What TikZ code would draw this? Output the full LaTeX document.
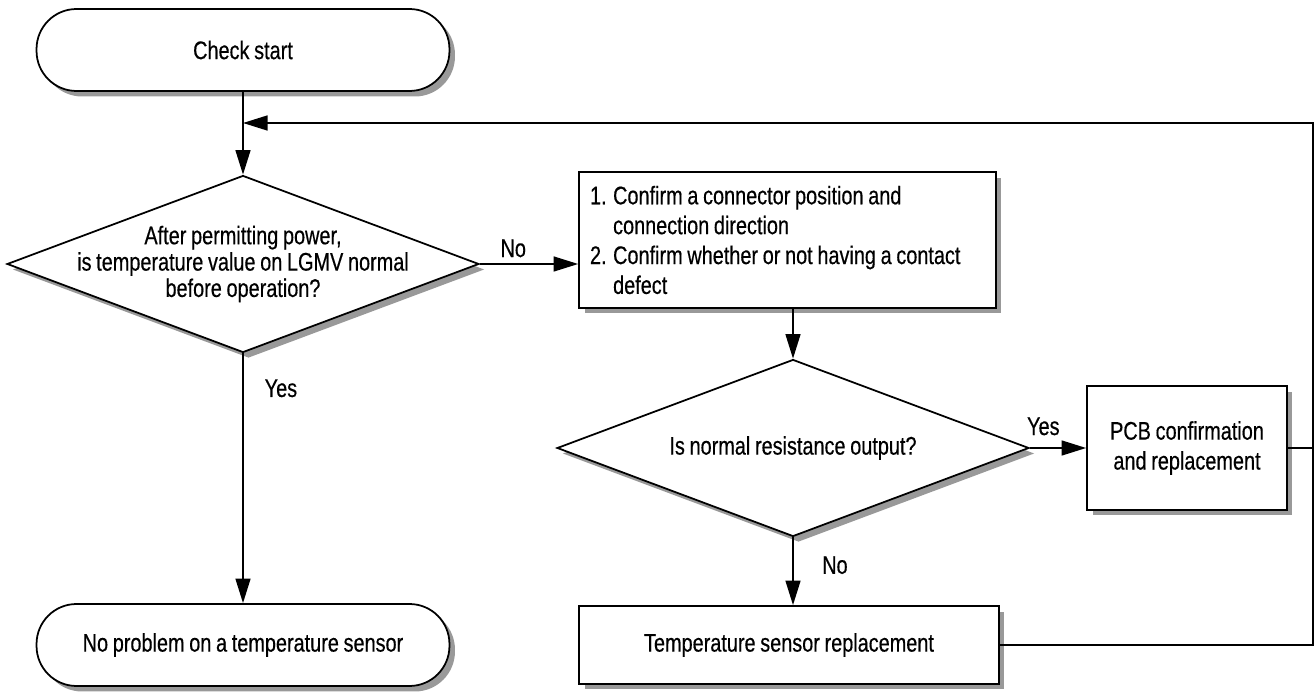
\documentclass[tikz,border=0pt]{standalone}
\usepackage{fontspec}
\setmainfont{Liberation Sans}[FakeStretch=0.78, WordSpace=0.85, FakeBold=0.4]
\usetikzlibrary{shapes.geometric,arrows.meta,shadows}

\tikzset{
    boxshadow/.style={drop shadow={shadow xshift=0.11cm, shadow yshift=-0.11cm, fill=black!40, opacity=1}},
    terminal/.style={draw, fill=white, rounded corners=0.8cm, minimum width=8.26cm, minimum height=1.64cm, boxshadow},
    process/.style={draw, fill=white, boxshadow},
    decision/.style={draw, fill=white, diamond, minimum width=9.44cm, minimum height=3.54cm, inner sep=0pt, boxshadow},
    flow/.style={-{Triangle[length=14pt, width=8.5pt]}},
}

\begin{document}
\begin{tikzpicture}[x=0.02cm, y=-0.02cm, line width=1pt, font=\fontsize{14.5}{17}\selectfont]

    \useasboundingbox (0,0) rectangle (1316,692);

    % Start and end
    \node[terminal] (start) at (243,50) {Check start};
    \node[terminal] (stop) at (243,645) {No problem on a temperature sensor};

    % First check
    \node[decision] (dec1) at (243,264) {};
    \node[align=center, font=\fontsize{14.5}{15}\selectfont] (dec1txt) at (dec1) {After permitting power,\\is temperature value on LGMV normal\\before operation?};

    % Connector check
    \node[process, text width=7.9cm, inner xsep=0.22cm, minimum height=2.72cm, align=flush left] (check) at (787.5,240)
        {1. Confirm a connector position and\\\phantom{1. }connection direction\\2. Confirm whether or not having a contact\\\phantom{2. }defect};

    % Resistance check
    \node[decision] (dec2) at (793,448) {};
    \node (dec2txt) at (dec2) {Is normal resistance output?};

    % Actions
    \node[process, minimum width=4cm, minimum height=2.48cm, align=center] (pcb) at (1187,448) {PCB confirmation\\and replacement};
    \node[process, minimum width=8.4cm, minimum height=1.56cm] (temp) at (789,645) {Temperature sensor replacement};

    % Connectors
    \draw[flow] (start) -- (dec1);
    \draw[flow] (dec1.south) -- node[pos=0.14, right=0.3cm] {Yes} (stop);
    \draw[flow] (dec1.east) -- node[pos=0.34, above] {No} (dec1.east -| check.west);
    \draw[flow] (check.south -| dec2.north) -- (dec2.north);
    \draw[flow] (dec2.east) -- node[pos=0.24, above=0.12cm] {Yes} (pcb.west);
    \draw[flow] (dec2.south) -- node[pos=0.41, right=0.45cm] {No} (dec2.south |- temp.north);

    % Back to the first check
    \coordinate (loop) at (1313,123);
    \draw[flow] (pcb.east) -| (loop) -- (loop -| start.south);
    \draw (temp.east) -| (loop);

\end{tikzpicture}
\end{document}
